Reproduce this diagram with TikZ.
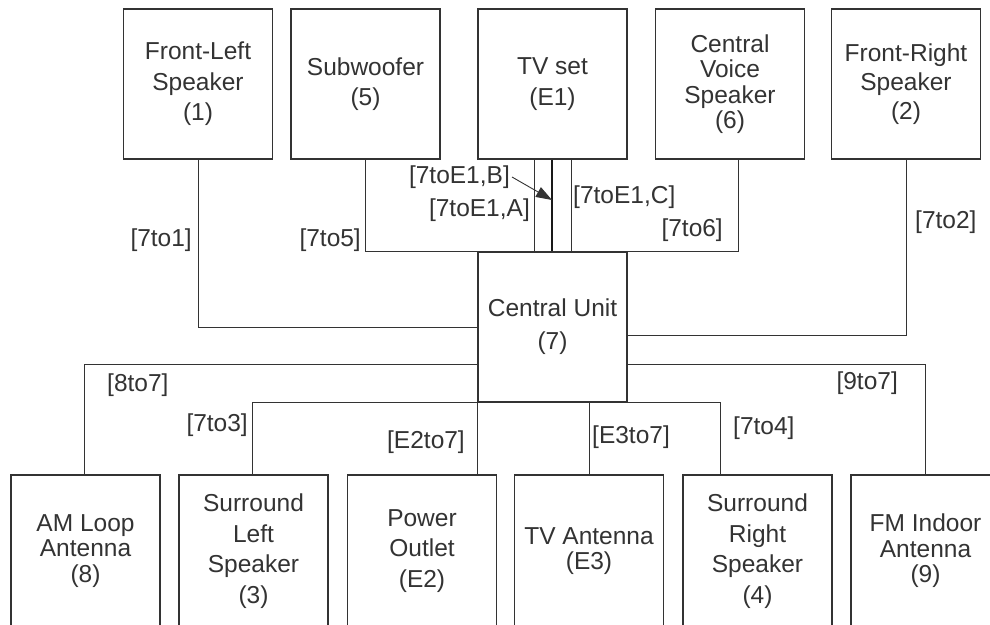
\documentclass[tikz,border=0pt]{standalone}
\usepackage{fontspec}
\setmainfont{Liberation Sans}
\usetikzlibrary{arrows.meta,calc}
\begin{document}
\begin{tikzpicture}[x=1pt,y=-1pt,
  box/.style={draw=black!80, line width=1.1pt, minimum width=149pt, minimum height=150pt,
    align=center, inner sep=2pt, text=black!80, font=\fontsize{24.5}{29}\selectfont},
  lowbox/.style={box, minimum height=152pt},
  tightlines/.style={font=\fontsize{24.5}{25.5}\selectfont},
  looselines/.style={font=\fontsize{24.5}{30.5}\selectfont},
  wire/.style={draw=black!80, line width=1pt},
  mainwire/.style={draw=black!90, line width=1.5pt},
  lbl/.style={inner sep=0pt, text=black!80, font=\fontsize{24.5}{29}\selectfont}]

\fill[white] (0,0) rectangle (990,624);
\useasboundingbox (0,0) rectangle (990,624);

% top row
\node[box, looselines] (fl)  at (198,84)   {Front-Left\\Speaker\\(1)};
\node[box, looselines] (sub) at (365.5,84) {Subwoofer\\(5)};
\node[box, looselines] (tv)  at (552.5,84) {TV set\\(E1)};
\node[box, tightlines] (cv)  at (730,84)   {Central\\Voice\\Speaker\\(6)};
\node[box]             (fr)  at (906,84)   {Front-Right\\Speaker\\(2)};

% central unit
\node[box, font=\fontsize{24.5}{33}\selectfont] (cu) at (552.5,327) {Central Unit\\(7)};

% bottom row
\node[lowbox, tightlines] (am)  at (85.5,551)  {AM Loop\\Antenna\\(8)};
\node[lowbox, looselines] (sl)  at (253.5,551) {Surround\\Left\\Speaker\\(3)};
\node[lowbox, looselines] (po)  at (422,551)   {Power\\Outlet\\(E2)};
\node[lowbox, tightlines] (tva) at (589,551)   {TV Antenna\\(E3)};
\node[lowbox, looselines] (sr)  at (757.5,551) {Surround\\Right\\Speaker\\(4)};
\node[lowbox, tightlines] (fm)  at (925.5,551) {FM Indoor\\Antenna\\(9)};

% connections to the upper row
\draw[wire] (fl.south) |- (cu.west);
\draw[wire] (sub.south) |- (cu.north west);
\draw[wire] ([xshift=8.5pt]cv.south) |- (cu.north east);
\draw[wire] (fr.south) |- ($(cu.east)+(0,8)$);
\draw[wire] ([xshift=-18.5pt]tv.south) -- ([xshift=-18.5pt]cu.north);
\draw[mainwire] ([xshift=-0.5pt]tv.south) -- ([xshift=-0.5pt]cu.north);
\draw[wire] ([xshift=18.5pt]tv.south) -- ([xshift=18.5pt]cu.north);

% connections to the lower row
\draw[wire] ($(cu.west)+(0,37)$) -| ([xshift=-1.5pt]am.north);
\draw[wire] ($(cu.east)+(0,37)$) -| (fm.north);
\draw[wire] ([xshift=-1.5pt]sl.north) |- (cu.south west);
\draw[wire] ([xshift=-37.5pt]sr.north) |- (cu.south east);
\draw[wire] (cu.south west) -- (cu.south west |- po.north);
\draw[wire] (tva.north) -- (tva.north |- cu.south);

% cable labels
\node[lbl, anchor=east] (l71)  at (192,240) {[7to1]};
\node[lbl, anchor=east] (l75)  at (361,240) {[7to5]};
\node[lbl, anchor=east] (lb)   at (510,177) {[7toE1,B]};
\node[lbl, anchor=east] (la)   at (530,210) {[7toE1,A]};
\node[lbl, anchor=west] (lc)   at (573,197) {[7toE1,C]};
\node[lbl, anchor=east] (l76)  at (723,230) {[7to6]};
\node[lbl, anchor=west] (l72)  at (915,222) {[7to2]};
\node[lbl, anchor=west] (l87)  at (107,385) {[8to7]};
\node[lbl, anchor=east] (l73)  at (248,425) {[7to3]};
\node[lbl, anchor=east] (le2)  at (465,442) {[E2to7]};
\node[lbl, anchor=west] (le3)  at (592,437) {[E3to7]};
\node[lbl, anchor=west] (l74)  at (733,428) {[7to4]};
\node[lbl, anchor=east] (l97)  at (898,383) {[9to7]};

% pointer from label B to its cable
\coordinate (btip) at (552,200);
\draw[wire, line width=0.9pt, -{Triangle[length=16pt,width=11pt]}] ([xshift=2pt]lb.east) -- (btip);

\end{tikzpicture}
\end{document}
